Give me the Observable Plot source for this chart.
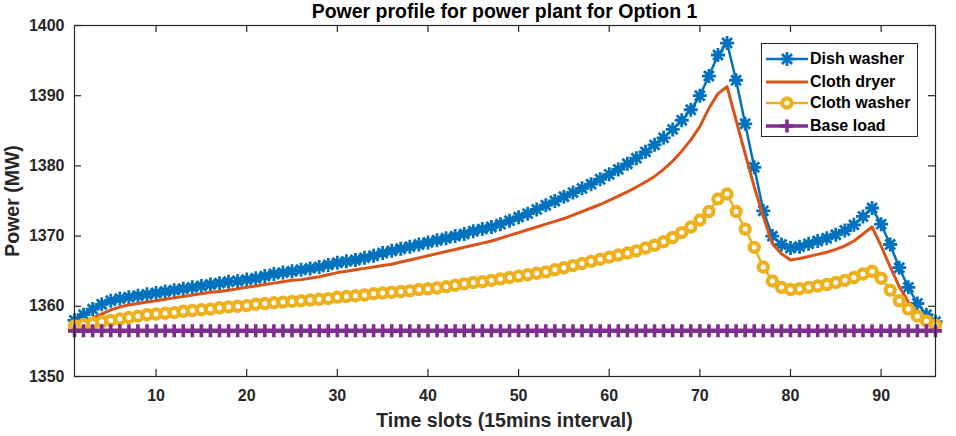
<!DOCTYPE html>
<html>
<head>
<meta charset="utf-8">
<script src="https://cdn.jsdelivr.net/npm/d3@7"></script>
<script src="https://cdn.jsdelivr.net/npm/@observablehq/plot@0.6"></script>
<style>
  html, body { margin: 0; padding: 0; background: #fff; }
  #wrap { position: relative; width: 956px; height: 436px; font-family: "Liberation Sans", Arial, sans-serif; color: #262626; }
  #title { position: absolute; top: 0px; left: 74px; width: 861px; text-align: center; font-weight: bold; font-size: 19.5px; line-height: 22px; color: #000; }
  #xlabel { position: absolute; top: 408px; left: 74px; width: 861px; text-align: center; font-weight: bold; font-size: 19.5px; line-height: 24px; }
  #ylabel { position: absolute; left: 12px; top: 201px; transform: translate(-50%, -50%) rotate(-90deg); white-space: nowrap; font-weight: bold; font-size: 19.5px; line-height: 22px; }
  #legend { position: absolute; left: 761px; top: 43px; width: 157px; height: 94px; border: 1px solid #262626; background: #fff; box-sizing: border-box; }
  .entry { position: absolute; left: 3px; height: 22px; display: flex; align-items: center; font-weight: bold; font-size: 16px; color: #000; white-space: nowrap; }
  .entry svg { margin-right: 1px; }
</style>
</head>
<body>
<div id="wrap">
  <div id="chart"></div>
  <div id="title">Power profile for power plant for Option 1</div>
  <div id="xlabel">Time slots (15mins interval)</div>
  <div id="ylabel">Power (MW)</div>
  <div id="legend"></div>
</div>
<script>
// ---- data ----
const slots = [1,2,3,4,5,6,7,8,9,10,11,12,13,14,15,16,17,18,19,20,21,22,23,24,25,26,27,28,29,30,31,32,33,34,35,36,37,38,39,40,41,42,43,44,45,46,47,48,49,50,51,52,53,54,55,56,57,58,59,60,61,62,63,64,65,66,67,68,69,70,71,72,73,74,75,76,77,78,79,80,81,82,83,84,85,86,87,88,89,90,91,92,93,94,95,96];

const dishWasher = [
  1358.0,1358.8,1359.6,1360.3,1360.8,1361.1,1361.3,1361.5,1361.7,1361.9,
  1362.1,1362.3,1362.5,1362.7,1362.9,1363.1,1363.3,1363.5,1363.6,1363.8,
  1364.0,1364.3,1364.6,1364.8,1365.0,1365.2,1365.4,1365.6,1365.9,1366.2,
  1366.4,1366.6,1366.9,1367.2,1367.6,1367.9,1368.2,1368.5,1368.8,1369.1,
  1369.4,1369.7,1370.0,1370.3,1370.7,1371.0,1371.3,1371.7,1372.2,1372.7,
  1373.2,1373.8,1374.4,1375.0,1375.6,1376.2,1376.8,1377.4,1378.1,1378.8,
  1379.5,1380.3,1381.1,1382.0,1383.0,1384.0,1385.2,1386.5,1388.0,1390.0,
  1392.8,1395.8,1397.5,1392.2,1386.0,1379.8,1373.6,1370.0,1368.8,1368.3,
  1368.5,1368.9,1369.3,1369.7,1370.2,1370.8,1371.6,1372.8,1374.0,1371.7,
  1368.8,1365.5,1362.7,1360.4,1358.8,1357.8
];

const clothDryer = [
  1357.3,1357.8,1358.3,1358.9,1359.5,1359.9,1360.2,1360.4,1360.6,1360.8,
  1361.0,1361.2,1361.4,1361.6,1361.8,1362.0,1362.1,1362.3,1362.5,1362.7,
  1362.9,1363.1,1363.3,1363.5,1363.7,1363.8,1364.0,1364.2,1364.5,1364.8,
  1365.0,1365.2,1365.4,1365.6,1365.8,1366.0,1366.3,1366.6,1366.9,1367.2,
  1367.5,1367.8,1368.1,1368.4,1368.7,1369.0,1369.3,1369.7,1370.1,1370.5,
  1370.9,1371.3,1371.7,1372.1,1372.5,1373.0,1373.5,1374.0,1374.5,1375.1,
  1375.7,1376.3,1377.0,1377.7,1378.5,1379.5,1380.7,1382.1,1383.7,1385.6,
  1388.2,1390.3,1391.3,1386.5,1381.7,1377.0,1372.8,1368.9,1367.5,1366.6,
  1366.8,1367.1,1367.4,1367.7,1368.1,1368.6,1369.3,1370.3,1371.3,1368.6,
  1365.6,1362.8,1360.6,1359.0,1357.9,1357.2
];

const clothWasher = [
  1357.2,1357.4,1357.6,1357.8,1358.0,1358.2,1358.4,1358.6,1358.8,1358.9,
  1359.0,1359.1,1359.3,1359.4,1359.5,1359.6,1359.8,1359.9,1360.0,1360.1,
  1360.3,1360.4,1360.5,1360.6,1360.7,1360.8,1360.9,1361.0,1361.1,1361.3,
  1361.4,1361.5,1361.6,1361.8,1361.9,1362.0,1362.1,1362.2,1362.4,1362.5,
  1362.6,1362.8,1363.0,1363.2,1363.4,1363.5,1363.7,1363.9,1364.1,1364.3,
  1364.5,1364.7,1364.9,1365.2,1365.5,1365.8,1366.1,1366.4,1366.7,1367.0,
  1367.3,1367.6,1367.9,1368.3,1368.7,1369.2,1369.8,1370.5,1371.3,1372.3,
  1373.5,1375.3,1376.0,1373.5,1371.0,1368.4,1365.6,1363.6,1362.7,1362.4,
  1362.5,1362.7,1362.9,1363.1,1363.4,1363.7,1364.1,1364.6,1365.0,1364.0,
  1362.3,1360.8,1359.6,1358.6,1357.9,1357.3
];

const baseLoad = [
  1356.5,1356.5,1356.5,1356.5,1356.5,1356.5,1356.5,1356.5,1356.5,1356.5,
  1356.5,1356.5,1356.5,1356.5,1356.5,1356.5,1356.5,1356.5,1356.5,1356.5,
  1356.5,1356.5,1356.5,1356.5,1356.5,1356.5,1356.5,1356.5,1356.5,1356.5,
  1356.5,1356.5,1356.5,1356.5,1356.5,1356.5,1356.5,1356.5,1356.5,1356.5,
  1356.5,1356.5,1356.5,1356.5,1356.5,1356.5,1356.5,1356.5,1356.5,1356.5,
  1356.5,1356.5,1356.5,1356.5,1356.5,1356.5,1356.5,1356.5,1356.5,1356.5,
  1356.5,1356.5,1356.5,1356.5,1356.5,1356.5,1356.5,1356.5,1356.5,1356.5,
  1356.5,1356.5,1356.5,1356.5,1356.5,1356.5,1356.5,1356.5,1356.5,1356.5,
  1356.5,1356.5,1356.5,1356.5,1356.5,1356.5,1356.5,1356.5,1356.5,1356.5,
  1356.5,1356.5,1356.5,1356.5,1356.5,1356.5
];

const seriesNames = ["Dish washer", "Cloth dryer", "Cloth washer", "Base load"];
const seriesColors = ["#0072BD", "#D95319", "#EDB120", "#7E2F8E"];
const xTicks = [10, 20, 30, 40, 50, 60, 70, 80, 90];
const yTicks = [1350, 1360, 1370, 1380, 1390, 1400];

// ---- custom MATLAB-like marker symbols ----
const starSymbol = {
  draw(ctx, size) {
    const r = Math.sqrt(size / Math.PI), d = r * Math.SQRT1_2;
    ctx.moveTo(-r, 0); ctx.lineTo(r, 0);
    ctx.moveTo(0, -r); ctx.lineTo(0, r);
    ctx.moveTo(-d, -d); ctx.lineTo(d, d);
    ctx.moveTo(-d, d); ctx.lineTo(d, -d);
  }
};
const plusSymbol = {
  draw(ctx, size) {
    const r = Math.sqrt(size / Math.PI);
    ctx.moveTo(-r, 0); ctx.lineTo(r, 0);
    ctx.moveTo(0, -r); ctx.lineTo(0, r);
  }
};

const mk = (vals) => slots.map((t, i) => ({t, v: vals[i]}));
const dDish = mk(dishWasher), dDryer = mk(clothDryer), dWasher = mk(clothWasher), dBase = mk(baseLoad);

const axisCol = "#262626";
const tickFont = {fontSize: 16, fontWeight: "bold", fontFamily: "Liberation Sans, Arial, sans-serif", fill: axisCol};

// layout and inward tick length converted to data units via the scale spans
const W = 956, H = 436, mL = 74, mR = 21, mT = 25, mB = 60, tl = 7;
const xDom = [1, 96], yDom = [1350, 1400];
const kx = tl * (xDom[1] - xDom[0]) / (W - mL - mR);
const ky = tl * (yDom[1] - yDom[0]) / (H - mT - mB);

const chart = Plot.plot({
  width: W,
  height: H,
  marginLeft: mL,
  marginRight: mR,
  marginTop: mT,
  marginBottom: mB,
  style: {background: "#fff", overflow: "visible"},
  x: {domain: xDom},
  y: {domain: yDom},
  marks: [
    // Dish washer
    Plot.line(dDish, {x: "t", y: "v", stroke: seriesColors[0], strokeWidth: 2.5}),
    Plot.dot(dDish, {x: "t", y: "v", symbol: starSymbol, r: 7, stroke: seriesColors[0], fill: "none", strokeWidth: 2.8}),
    // Cloth dryer
    Plot.line(dDryer, {x: "t", y: "v", stroke: seriesColors[1], strokeWidth: 3}),
    // Cloth washer
    Plot.line(dWasher, {x: "t", y: "v", stroke: seriesColors[2], strokeWidth: 2.5}),
    Plot.dot(dWasher, {x: "t", y: "v", symbol: "circle", r: 4.6, stroke: seriesColors[2], fill: "#fff", strokeWidth: 4.2}),
    // Base load
    Plot.line(dBase, {x: "t", y: "v", stroke: seriesColors[3], strokeWidth: 4.5}),
    Plot.dot(dBase, {x: "t", y: "v", symbol: plusSymbol, r: 6.5, stroke: seriesColors[3], fill: "none", strokeWidth: 3.6}),
    // axes: labels
    Plot.axisX({ticks: xTicks, tickSize: 0, tickPadding: 13, tickFormat: d3.format("d"), label: null, ...tickFont}),
    Plot.axisY({ticks: yTicks, tickSize: 0, tickPadding: 10, tickFormat: d3.format("d"), label: null, ...tickFont}),
    // inward ticks on all four sides
    Plot.ruleX(xTicks, {x: d => d, y1: yDom[0], y2: yDom[0] + ky, stroke: axisCol, strokeWidth: 1.2}),
    Plot.ruleX(xTicks, {x: d => d, y1: yDom[1] - ky, y2: yDom[1], stroke: axisCol, strokeWidth: 1.2}),
    Plot.ruleY(yTicks, {y: d => d, x1: xDom[0], x2: xDom[0] + kx, stroke: axisCol, strokeWidth: 1.2}),
    Plot.ruleY(yTicks, {y: d => d, x1: xDom[1] - kx, x2: xDom[1], stroke: axisCol, strokeWidth: 1.2}),
    Plot.frame({stroke: axisCol, strokeWidth: 1.2})
  ]
});
document.getElementById("chart").appendChild(chart);

// ---- legend ----
const legend = document.getElementById("legend");
const rowTops = [4, 27, 48, 71];
const ns = "http://www.w3.org/2000/svg";
seriesNames.forEach((name, i) => {
  const row = document.createElement("div");
  row.className = "entry";
  row.style.top = rowTops[i] + "px";
  const svg = document.createElementNS(ns, "svg");
  svg.setAttribute("width", "44"); svg.setAttribute("height", "22");
  const c = seriesColors[i];
  let inner = `<line x1="1" y1="11" x2="43" y2="11" stroke="${c}" stroke-width="${i === 1 ? 3 : (i === 3 ? 3.5 : 2.5)}"/>`;
  if (i === 0) {
    inner += `<g stroke="${c}" stroke-width="2.8"><line x1="15" y1="11" x2="29" y2="11"/><line x1="22" y1="4" x2="22" y2="18"/><line x1="17" y1="6" x2="27" y2="16"/><line x1="17" y1="16" x2="27" y2="6"/></g>`;
  } else if (i === 2) {
    inner += `<circle cx="22" cy="11" r="4.6" fill="#fff" stroke="${c}" stroke-width="4.2"/>`;
  } else if (i === 3) {
    inner += `<g stroke="${c}" stroke-width="3.6"><line x1="15.5" y1="11" x2="28.5" y2="11"/><line x1="22" y1="4.5" x2="22" y2="17.5"/></g>`;
  }
  svg.innerHTML = inner;
  row.appendChild(svg);
  const label = document.createElement("span");
  label.textContent = name;
  row.appendChild(label);
  legend.appendChild(row);
});
</script>
</body>
</html>
